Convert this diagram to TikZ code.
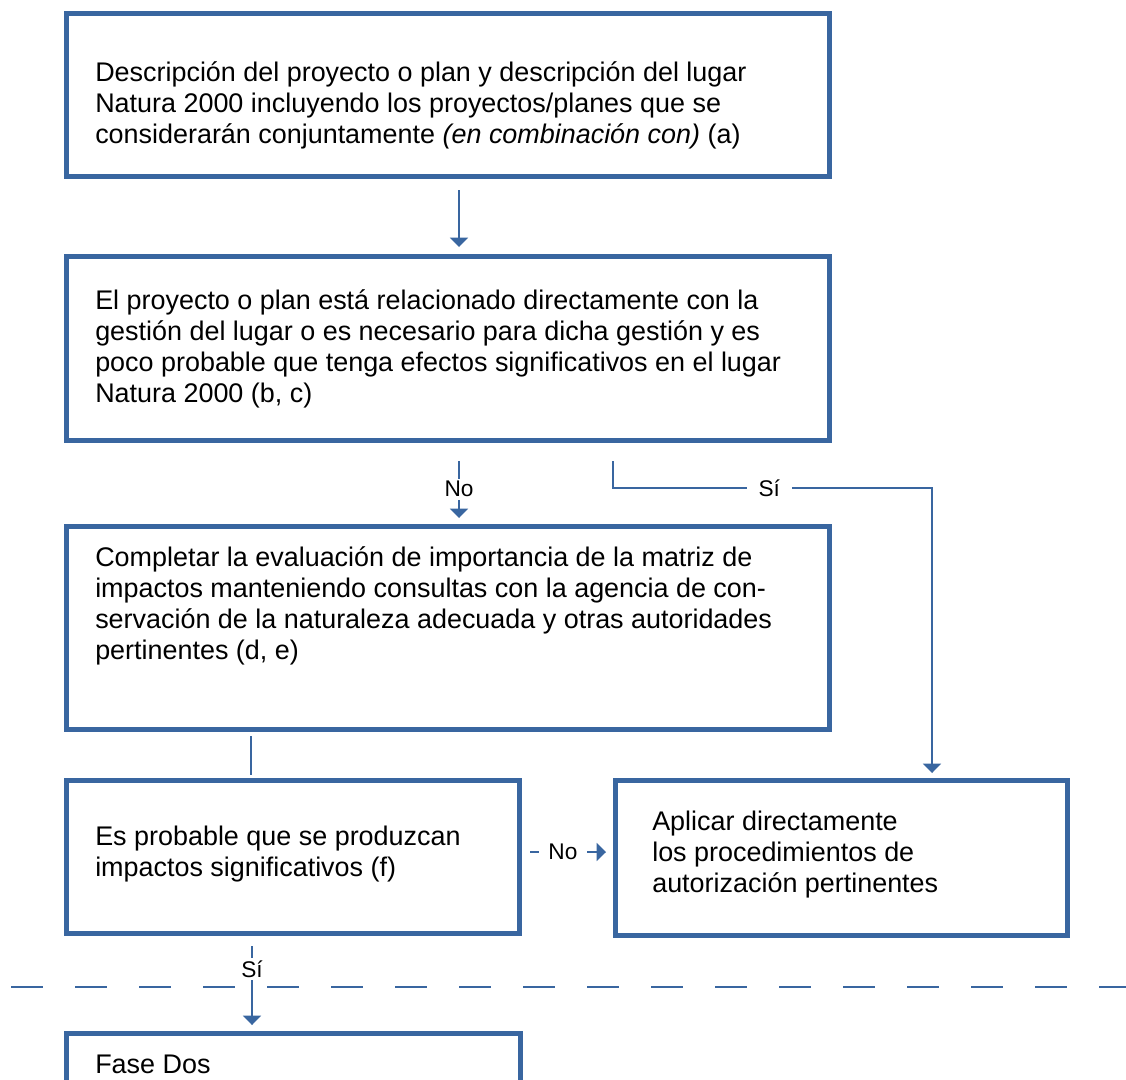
\documentclass[tikz,border=0pt]{standalone}
\usepackage{fontspec}
\setmainfont{Liberation Sans}
\usetikzlibrary{arrows.meta, positioning, calc}
\definecolor{boxblue}{RGB}{57,102,160}

\begin{document}
\begin{tikzpicture}[x=0.75pt, y=-0.75pt,
    box/.style 2 args={draw=boxblue, line width=3.75pt, inner sep=0pt, minimum width=#1, minimum height=#2},
    txt/.style={align=left, inner sep=0pt, anchor=west, font=\fontsize{20.2}{23.25}\selectfont},
    lbl/.style={fill=white, inner sep=2pt, font=\fontsize{17}{20}\selectfont},
    ln/.style={draw=boxblue, line width=1pt},
    arr/.style={ln, -{Triangle[length=7pt, width=13.5pt]}}]
  \clip (0,0) rectangle (1126,1079);
  \draw[boxblue, line width=1.1pt, dash pattern=on 24pt off 24pt] (11,987) -- (1126,987);

  \node[box={572.25pt}{122.25pt}] (b1) at (448,95) {};
  \node[txt] (t1) at (95,105) {Descripción del proyecto o plan y descripción del lugar\\
    Natura 2000 incluyendo los proyectos/planes que se\\
    considerarán conjuntamente \textit{(en combinación con)} (a)};
  \node[box={572.25pt}{138pt}] (b2) at (448,348.5) {};
  \node[txt] (t2) at (95,348.5) {El proyecto o plan está relacionado directamente con la\\
    gestión del lugar o es necesario para dicha gestión y es\\
    poco probable que tenga efectos significativos en el lugar\\
    Natura 2000 (b, c)};
  \node[box={572.25pt}{152.25pt}] (b3) at (448,628) {};
  \node[txt] (t3) at (95,605.5) {Completar la evaluación de importancia de la matriz de\\
    impactos manteniendo consultas con la agencia de con-\\
    servación de la naturaleza adecuada y otras autoridades\\
    pertinentes (d, e)};
  \node[box={339.75pt}{114.75pt}] (b4) at (293,857) {};
  \node[txt] (t4) at (95,854) {Es probable que se produzcan\\
    impactos significativos (f)};
  \node[box={339pt}{116.25pt}] (b5) at (841.5,858) {};
  \node[txt] (t5) at (652,854.5) {Aplicar directamente\\
    los procedimientos de\\
    autorización pertinentes};
  \node[box={340.5pt}{90pt}] (b6) at (293.5,1093.5) {};
  \node[txt] (t6) at (95,1064) {Fase Dos};

  \coordinate (siturn) at (932,488);
  \draw[arr, shorten <=8.25pt, shorten >=5.25pt] ([xshift=8.25pt]b1.south) -- ([xshift=8.25pt]b2.north);
  \draw[arr, shorten <=13.5pt, shorten >=4.5pt] ([xshift=8.25pt]b2.south) -- node[lbl, pos=0.57] (no1) {No} ([xshift=8.25pt]b3.north);
  \draw[arr, shorten <=13.5pt, shorten >=3.75pt] ([xshift=123.75pt]b2.south) |- node[lbl, pos=0.745, inner xsep=9pt] (si1) {Sí} (siturn) -- (b5.north -| siturn);
  \draw[ln, shorten <=3pt, shorten >=2.25pt] ([xshift=-147.75pt]b3.south) -- ([xshift=-31.5pt]b4.north);
  \draw[arr, shorten <=6pt, shorten >=5.25pt] ([yshift=3.75pt]b4.east) -- node[lbl, pos=0.45, inner xsep=7pt] (no2) {No} ([yshift=3.75pt]b4.east -| b5.west);
  \draw[arr, shorten <=7.5pt, shorten >=4.5pt] ([xshift=-30.75pt]b4.south) -- node[lbl, pos=0.35] (si2) {Sí} ([xshift=-30.75pt]b4.south |- b6.north);
\end{tikzpicture}
\end{document}
